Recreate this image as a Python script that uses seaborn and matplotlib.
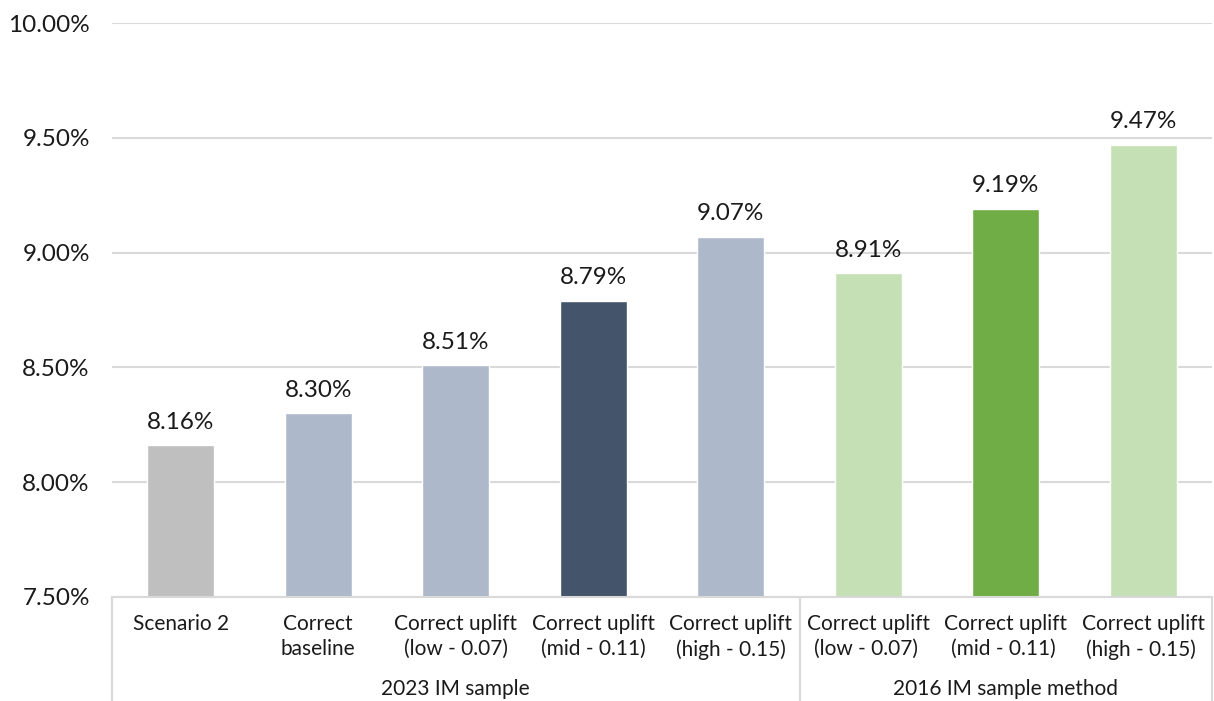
import numpy as np
import pandas as pd
import seaborn as sns
import matplotlib.pyplot as plt
from matplotlib.ticker import FuncFormatter

# data
categories = ["Scenario 2", "Correct\nbaseline",
              "Correct uplift\n(low - 0.07)", "Correct uplift\n(mid - 0.11)", "Correct uplift\n(high - 0.15)",
              "Correct uplift\n(low - 0.07) ", "Correct uplift\n(mid - 0.11) ", "Correct uplift\n(high - 0.15) "]
values = [8.16, 8.30, 8.51, 8.79, 9.07, 8.91, 9.19, 9.47]
bar_colors = ["#bfbfbf", "#adb9ca", "#adb9ca", "#44546a", "#adb9ca", "#c5e0b4", "#70ad47", "#c5e0b4"]
groups = ["2023 IM sample", "2016 IM sample method"]
group_sizes = [5, 3]

sns.set_theme(style="white")
plt.rcParams['font.family'] = ['Lato', 'DejaVu Sans']

df = pd.DataFrame({"cat": categories, "val": values})

fig = plt.figure(figsize=(12.14, 7.01), dpi=100)
ax = fig.add_axes([112 / 1214, 1 - 597 / 701, 1100 / 1214, 574 / 701])

sns.barplot(data=df, x="cat", y="val", hue="cat", palette=bar_colors,
            width=0.49, legend=False, ax=ax, saturation=1)

ax.set_ylim(7.5, 10.0)
ax.set_yticks(np.arange(7.5, 10.01, 0.5))
ax.yaxis.set_major_formatter(FuncFormatter(lambda v, p: f"{v:.2f}%"))
ax.grid(axis="y", color="#d9d9d9", linewidth=1.5)
ax.set_axisbelow(True)
ax.set_xlabel("")
ax.set_ylabel("")
for s in ["top", "right", "left"]:
    ax.spines[s].set_visible(False)
ax.spines["bottom"].set_color("#d9d9d9")
ax.spines["bottom"].set_linewidth(1.5)
ax.tick_params(axis="y", length=0, pad=16, labelsize=17.5, labelcolor="#1a1a1a")
ax.tick_params(axis="x", length=0, pad=12, labelsize=15, labelcolor="#1a1a1a")
for t in ax.get_xticklabels():
    t.set_linespacing(1.35)
    t.set_multialignment("center")

# value labels
for c in ax.containers:
    ax.bar_label(c, labels=[f"{v:.2f}%" for v in c.datavalues], padding=9,
                 fontsize=17.5, color="#1a1a1a")

# group axis: separators and group names
trans = ax.get_xaxis_transform()
edges = np.concatenate([[0], np.cumsum(group_sizes)]) - 0.5
for e in edges:
    ax.plot([e, e], [0, -0.185], transform=trans, color="#d9d9d9", lw=1.5, clip_on=False)
for g, a, b in zip(groups, edges[:-1], edges[1:]):
    ax.text((a + b) / 2, -0.161, g, transform=trans, ha="center", va="center",
            fontsize=15, color="#1a1a1a")
ax.set_xlim(edges[0], edges[-1])

fig.savefig("out.png", dpi=100)
